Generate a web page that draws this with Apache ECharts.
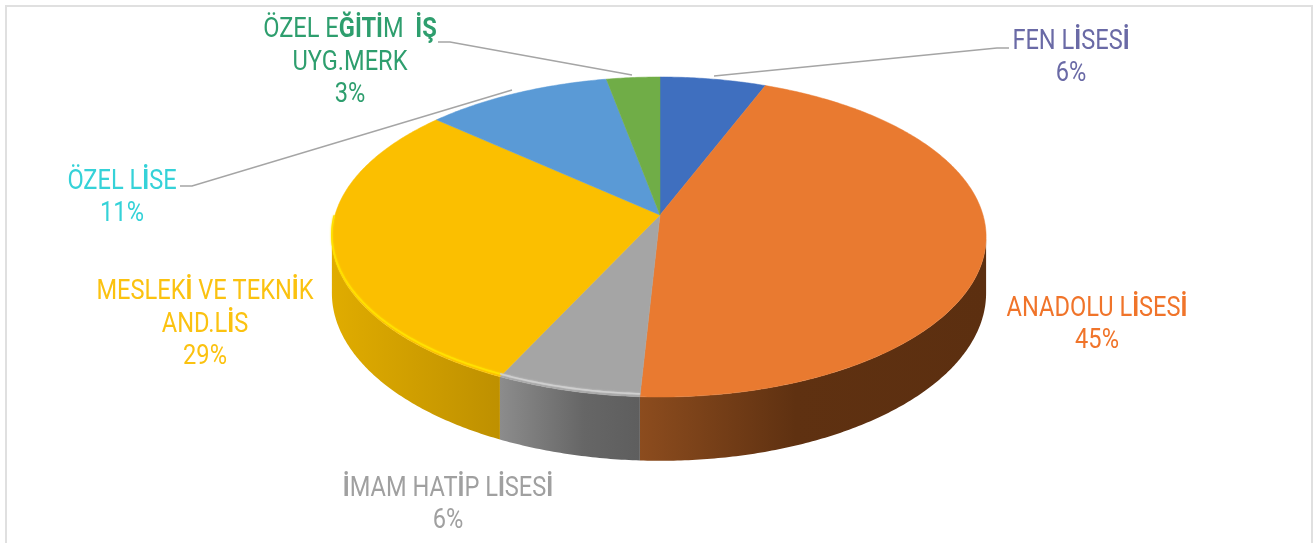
<!DOCTYPE html>
<html><head><meta charset="utf-8">
<style>html,body{margin:0;padding:0;background:#fff}#c{width:1315px;height:543px}</style>
<script src="https://cdn.jsdelivr.net/npm/echarts@6/dist/echarts.min.js"></script>
</head><body><div id="c"></div>
<script>
const categories = ['FEN LİSESİ','ANADOLU LİSESİ','İMAM HATİP LİSESİ','MESLEKİ VE TEKNİK\nAND.LİS','ÖZEL LİSE','ÖZEL EĞİTİM  İŞ\nUYG.MERK'];
const values = [6, 44.85, 6.25, 29.4, 10.5, 3];
const sliceColors = ['#3F6FBF','#E97A30','#A5A5A5','#FBBF00','#5A9AD6','#70AD47'];
const labelColors = ['#6A6AA6','#F0742A','#A0A0A0','#FBC210','#35D2D8','#2E9E6E'];

// layout (not data)
const G = {cx:660, cy:215, Rr:323, Rl:325, Ry:157, k:0.1375, h:55};
const labelAt = [[1071,58],[1097,325],[448,505],[205,325],[122,198],[350,63]];
const leaders = [
  [[1009,48],[997,48],[714,76]],
  null, null, null,
  [[180,186],[192,186],[512,90]],
  [[438,42],[450,42],[632,75]]
];
const wallFill = {
  1:[[0,'#8C4C1E'],[0.45,'#5F3111'],[1,'#5C2F10']],
  2:[[0,'#8C8C8C'],[0.6,'#666666'],[1,'#5E5E5E']],
  3:[[0,'#E0AC00'],[1,'#BE9000']]
};
const rim = {2:'#CFCFCF',3:'#FFE100'};
const total = values.reduce((a,b)=>a+b,0);
function pt(t,dy){
  const s = 1/(1+G.k*Math.cos(t)), sn=Math.sin(t);
  return [G.cx+(sn>0?G.Rr:G.Rl)*sn*s, G.cy-G.Ry*Math.cos(t)*s+(dy||0)*s];
}
function arc(t1,t2,dy){
  const n=Math.max(2,Math.ceil((t2-t1)/0.01)),o=[];
  for(let i=0;i<=n;i++) o.push(pt(t1+(t2-t1)*i/n,dy));
  return o;
}
const frontA = Math.acos(-G.k), frontB = 2*Math.PI-frontA;
function rich(txt){
  return txt.replace(/ĞİTİ|İŞ|İ/g,m=>'{b|'+m+'}');
}
function renderItem(params,api){
  const i=params.dataIndex;
  let before=0; for(let j=0;j<i;j++) before+=values[j];
  const v=api.value(1);
  const t1=before/total*2*Math.PI, t2=(before+v)/total*2*Math.PI;
  const kids=[];
  const a=Math.max(t1,frontA), b=Math.min(t2,frontB);
  if(b>a && wallFill[i]){
    const top=arc(a,b,0), bot=arc(a,b,G.h).reverse();
    kids.push({type:'polygon',z2:1,shape:{points:top.concat(bot)},
      style:{fill:{type:'linear',x:0,y:0,x2:1,y2:0,colorStops:wallFill[i].map(c=>({offset:c[0],color:c[1]}))}}});
  }
  kids.push({type:'polygon',z2:2,shape:{points:[[G.cx,G.cy]].concat(arc(t1,t2,0))},
    style:{fill:sliceColors[i],stroke:sliceColors[i],lineWidth:0.5}});
  if(rim[i]){
    kids.push({type:'polyline',z2:3,shape:{points:arc(t1,Math.min(t2,frontB+0.12),-2.5)},
      style:{fill:null,stroke:rim[i],lineWidth:1.6,shadowBlur:2,shadowColor:rim[i]}});
  }
  if(leaders[i]){
    kids.push({type:'polyline',z2:4,shape:{points:leaders[i]},
      style:{fill:null,stroke:'#A5A5A5',lineWidth:1.5}});
  }
  const font={fontFamily:'Roboto,"Liberation Sans",sans-serif',fontSize:27};
  kids.push({type:'text',z2:5,x:labelAt[i][0],y:labelAt[i][1],scaleX:0.875,style:Object.assign({},font,{
    x:0,y:0,align:'center',verticalAlign:'middle',fontWeight:400,
    fill:labelColors[i],lineHeight:32.5,
    text:rich(categories[i])+'\n'+Math.round(v)+'%',
    rich:{b:Object.assign({},font,{fontWeight:'bold',fill:labelColors[i],lineHeight:32.5})}
  })});
  return {type:'group',children:kids};
}
const chart=echarts.init(document.getElementById('c'),null,{renderer:'canvas'});
chart.setOption({
  animation:false,backgroundColor:'#fff',
  graphic:[{type:'rect',shape:{x:6,y:6,width:1306,height:580},style:{fill:'none',stroke:'#E0E0E0',lineWidth:2},silent:true}],
  series:[{type:'custom',coordinateSystem:'none',renderItem,silent:true,
    data:categories.map((c,i)=>[i,values[i]])}]
});
</script></body></html>
